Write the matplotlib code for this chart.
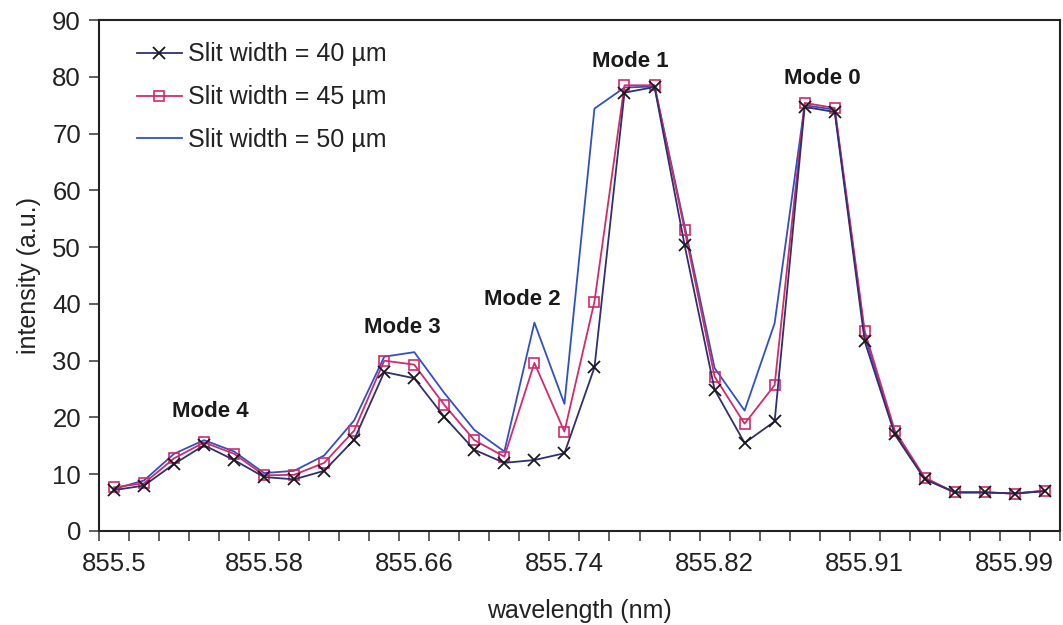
import numpy as np
import matplotlib.pyplot as plt

plt.rcParams['font.family'] = ['Liberation Sans', 'DejaVu Sans']

# --- DATA ---
wavelength_labels = ['855.5', '855.58', '855.66', '855.74', '855.82', '855.91', '855.99']
label_every = 5

slit_40 = [7.2, 8.0, 11.8, 15.1, 12.5, 9.5, 9.1, 10.6, 16.1, 28.0, 26.9, 20.1,
           14.3, 12.0, 12.5, 13.7, 28.8, 77.2, 78.2, 50.4, 24.9, 15.5, 19.3, 74.7,
           73.8, 33.4, 17.0, 9.1, 6.8, 6.8, 6.6, 7.0]
slit_45 = [7.7, 8.4, 12.8, 15.6, 13.6, 9.8, 9.9, 12.0, 17.7, 30.0, 29.3, 22.2,
           16.0, 13.1, 29.6, 17.5, 40.4, 78.5, 78.5, 53.1, 27.2, 18.9, 25.7, 75.4,
           74.5, 35.2, 17.7, 9.4, 6.8, 6.8, 6.6, 7.1]
slit_50 = [7.4, 8.9, 13.6, 16.0, 14.0, 10.2, 10.6, 13.3, 19.5, 30.7, 31.5, 24.3,
           17.8, 14.0, 36.7, 22.4, 74.4, 78.1, 78.3, 53.8, 28.7, 21.2, 36.6, 75.0,
           74.2, 34.5, 17.4, 9.2, 6.8, 6.8, 6.6, 7.1]

mode_names = ['Mode 4', 'Mode 3', 'Mode 2', 'Mode 1', 'Mode 0']
mode_x = [3.2, 9.6, 13.6, 17.2, 23.6]
mode_y = [21.0, 35.9, 40.8, 82.7, 79.7]

# --- PLOT ---
idx = np.arange(len(slit_40))

fig = plt.figure(figsize=(10.63, 6.25), dpi=100)
ax = fig.add_axes([0.0931, 0.1504, 0.904, 0.8176])

ax.plot(idx, slit_40, color='#2E3070', lw=1.3, marker='x', ms=8, mew=1.3,
        mec='#1a1a1a', label='Slit width = 40 µm', zorder=4)
ax.plot(idx, slit_45, color='#D42A6A', lw=1.3, marker='s', ms=7, mew=1.2,
        mfc='none', mec='#D42A6A', label='Slit width = 45 µm', zorder=3)
ax.plot(idx, slit_50, color='#3050C8', lw=1.3, label='Slit width = 50 µm', zorder=2)

for name, mx, my in zip(mode_names, mode_x, mode_y):
    ax.text(mx, my, name, ha='center', va='center', fontsize=16, fontweight='bold',
            color='#1a1a1a')

ax.set_xlim(-0.5, len(idx) - 0.5)
ax.set_ylim(0, 90)
ax.set_yticks(np.arange(0, 91, 10))

# category axis: tick marks at boundaries, labels at category centres
ax.set_xticks(np.arange(-0.5, len(idx), 1.0))
ax.set_xticklabels([])
ax.set_xticks(np.arange(0, len(idx), label_every), minor=True)
ax.set_xticklabels(wavelength_labels, minor=True)
ax.tick_params(axis='x', which='major', direction='out', length=7, width=1.2, color='#444444')
ax.tick_params(axis='x', which='minor', length=0, pad=15, labelsize=18.5, labelcolor='#222222')
ax.tick_params(axis='y', direction='out', length=7, width=1.2, color='#444444',
               labelsize=18.5, labelcolor='#222222', pad=6)

for sp in ax.spines.values():
    sp.set_linewidth(1.5)
    sp.set_color('#222222')

ax.set_xlabel('wavelength (nm)', fontsize=18, color='#222222', labelpad=17)
ax.set_ylabel('intensity (a.u.)', fontsize=18, color='#222222', labelpad=8)

ax.legend(loc='upper left', bbox_to_anchor=(0.016, 1.0), frameon=False,
          fontsize=18, handlelength=1.8, handletextpad=0.25, labelspacing=0.75,
          labelcolor='#222222')

fig.savefig('out.png', dpi=100)
